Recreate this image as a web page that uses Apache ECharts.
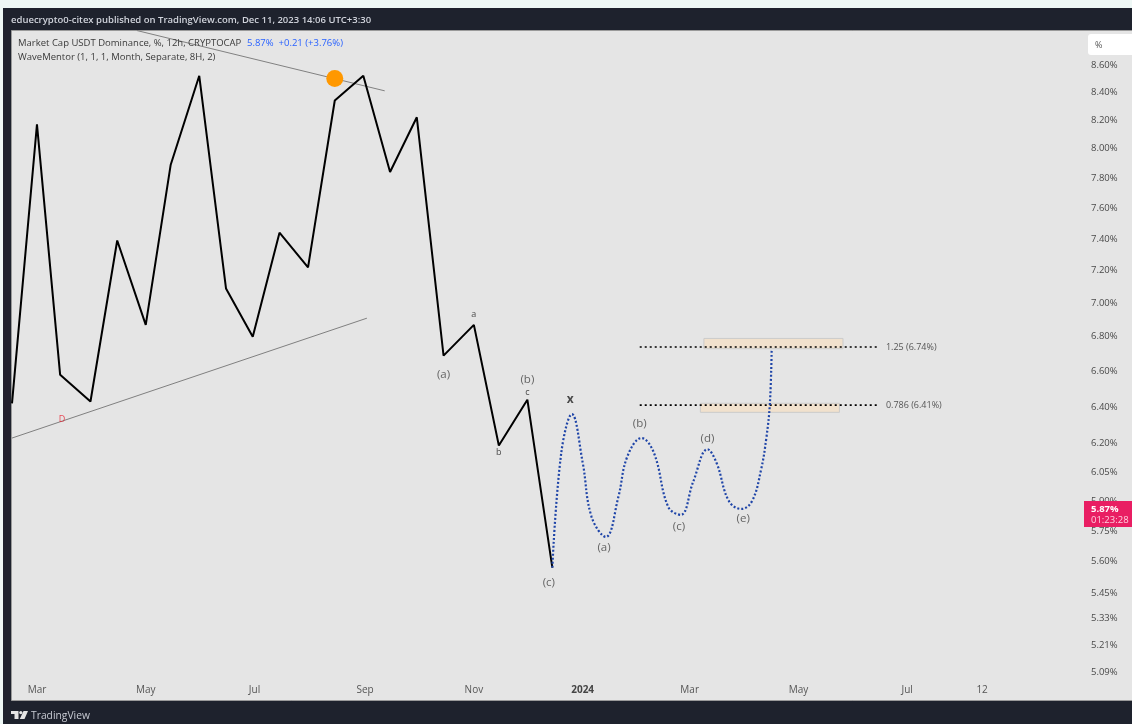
<!DOCTYPE html>
<html><head><meta charset="utf-8">
<style>html,body{margin:0;padding:0;background:#eef7f5}#c{width:1132px;height:724px}</style>
<script src="https://cdn.jsdelivr.net/npm/echarts@6/dist/echarts.min.js"></script>
</head><body><div id="c"></div>
<script>
const priceDates=['2023-02-15','2023-03-01','2023-03-14','2023-03-31','2023-04-15','2023-05-01','2023-05-15','2023-05-31','2023-06-15','2023-06-30','2023-07-15','2023-07-31','2023-08-15','2023-08-31','2023-09-15','2023-09-30','2023-10-15','2023-11-01','2023-11-15','2023-12-01','2023-12-15'];
const priceValues=[6.42,8.17,6.58,6.43,7.39,6.87,7.89,8.52,7.09,6.80,7.44,7.22,8.34,8.52,7.84,8.22,6.69,6.87,6.19,6.44,5.57];
const forecastDates=['2023-12-15','2023-12-20','2023-12-26','2024-01-01','2024-01-06','2024-01-14','2024-01-21','2024-01-26','2024-02-03','2024-02-10','2024-02-18','2024-02-25','2024-03-03','2024-03-11','2024-03-16','2024-03-23','2024-03-30','2024-04-05','2024-04-10','2024-04-13','2024-04-15','2024-04-16'];
const forecastValues=[5.57,6.15,6.36,6.10,5.82,5.72,5.92,6.13,6.23,6.15,5.87,5.83,6.00,6.17,6.10,5.90,5.86,5.90,6.06,6.23,6.42,6.73];
const upperTrendDates=['2023-04-26','2023-09-12'];
const upperTrendValues=[8.86,8.41];
const lowerTrendDates=['2023-02-15','2023-09-02'];
const lowerTrendValues=[6.23,6.91];
const fibDates=['2024-02-02','2024-06-14'];
const fibLevels=[6.41,6.74];
const fibNames=['0.786 (6.41%)','1.25 (6.74%)'];
const zoneStarts=['2024-03-09','2024-03-07'];
const zoneEnds=['2024-05-26','2024-05-24'];
const zoneHighs=[6.79,6.42];
const zoneLows=[6.73,6.37];
const markerDate='2023-08-15';
const markerValue=8.50;
const waveNames=['(a)','a','b','c','(b)','x','(c)','(a)','(b)','(c)','(d)','(e)'];
const waveDates=['2023-10-15','2023-11-01','2023-11-15','2023-12-01','2023-12-01','2023-12-25','2023-12-13','2024-01-13','2024-02-02','2024-02-24','2024-03-11','2024-03-31'];
const waveValues=[6.58,6.93,6.155,6.48,6.55,6.44,5.50,5.665,6.305,5.77,6.225,5.81];
const yTicks=[8.6,8.4,8.2,8.0,7.8,7.6,7.4,7.2,7.0,6.8,6.6,6.4,6.2,6.05,5.9,5.75,5.6,5.45,5.33,5.21,5.09];
const xTicks=['2023-03-01','2023-05-01','2023-07-01','2023-09-01','2023-11-01','2024-01-01','2024-03-01','2024-05-01','2024-07-01','2024-08-12'];
const xTickNames=['Mar','May','Jul','Sep','Nov','2024','Mar','May','Jul','12'];
const FONT='"Open Sans","Noto Sans",sans-serif';
const t=d=>Date.parse(d+'T00:00:00Z');
const zip=(a,b)=>a.map((d,i)=>[t(d),b[i]]);
const chart=echarts.init(document.getElementById('c'),null,{renderer:'canvas'});
const txt=(x,y,text,fill,size,weight,extra)=>({type:'text',z:100,silent:true,x,y,style:Object.assign({text,fill,font:(weight||'normal')+' '+size+'px '+FONT,textVerticalAlign:'middle'},extra||{})});
const waveLabel=n=>n==='x'?{fontWeight:'bold',fontSize:12,color:'#222'}:(n.length===1?{fontSize:9,color:'#222'}:{fontSize:11.5,color:'#444'});
chart.setOption({
  animation:false,
  backgroundColor:'#eef7f5',
  grid:{left:12,right:42,top:30,bottom:24,containLabel:false},
  xAxis:{type:'value',min:t('2023-02-15'),max:t('2024-10-11')+43200000,
    axisLine:{show:false},axisTick:{show:false},splitLine:{show:false},
    axisLabel:{inside:true,margin:5,hideOverlap:false,customValues:xTicks.map(t),color:'#555',fontSize:10,fontFamily:FONT,
      formatter:(v)=>{const n=xTickNames[xTicks.map(t).indexOf(+v)];return n==='2024'?'{b|2024}':n;},
      rich:{b:{fontWeight:'bold',fontSize:10,color:'#444',fontFamily:FONT}}}},
  yAxis:{type:'log',logBase:10,min:4.968,max:8.864,position:'right',
    axisLine:{show:false},axisTick:{show:false},splitLine:{show:false},minorTick:{show:false},minorSplitLine:{show:false},
    axisLabel:{customValues:yTicks,margin:1,color:'#4a4a4a',fontSize:9.5,fontFamily:FONT,hideOverlap:false,showMinLabel:true,showMaxLabel:true,
      formatter:(v)=>(+v).toFixed(2)+'%'}},
  series:[
    {name:'zones',type:'line',data:[],silent:true,z:1,
      markArea:{silent:true,itemStyle:{color:'#f1e1cd',opacity:1,borderColor:'#cbcbcb',borderWidth:1},
        data:zoneStarts.map((s,i)=>[{xAxis:t(s),yAxis:zoneHighs[i]},{xAxis:t(zoneEnds[i]),yAxis:zoneLows[i]}])}},
    {name:'upper',type:'line',data:zip(upperTrendDates,upperTrendValues),showSymbol:false,lineStyle:{color:'#808080',width:1},z:2},
    {name:'lower',type:'line',data:zip(lowerTrendDates,lowerTrendValues),showSymbol:false,lineStyle:{color:'#808080',width:1},z:2},
    ...fibLevels.map((lv,i)=>({name:fibNames[i],type:'line',data:zip(fibDates,[lv,lv]),showSymbol:false,
      lineStyle:{color:'#000',width:1.7,type:[2,3]},z:3,
      endLabel:{show:true,formatter:fibNames[i],color:'#555',fontSize:9,fontFamily:FONT,distance:9}})),
    {name:'Market Cap USDT Dominance',type:'line',data:zip(priceDates,priceValues),showSymbol:false,lineStyle:{color:'#000',width:2},z:4},
    {name:'Forecast',type:'line',data:zip(forecastDates,forecastValues),smooth:0.4,showSymbol:false,lineStyle:{color:'#1f45a8',width:2.2,type:[2,2]},z:5},
    {name:'marker',type:'scatter',data:[[t(markerDate),markerValue]],symbolSize:17,itemStyle:{color:'#ff9800',opacity:1},z:6},
    {name:'waves',type:'scatter',symbolSize:1,itemStyle:{color:'transparent'},z:7,
      data:waveNames.map((n,i)=>({value:[t(waveDates[i]),waveValues[i]],name:n,label:waveLabel(n)})),
      label:{show:true,position:'inside',formatter:(p)=>p.name,fontFamily:FONT}},
    {name:'D',type:'scatter',symbolSize:1,itemStyle:{color:'transparent'},z:7,data:[{value:[t('2023-03-15'),6.33],name:'D'}],
      label:{show:true,position:'inside',formatter:'D',fontFamily:FONT,color:'#e8202f',fontSize:9}}
  ],
  graphic:[
    {type:'rect',z:-20,silent:true,shape:{x:3,y:8,width:1129,height:716},style:{fill:'#1e222d'}},
    {type:'rect',z:-19,silent:true,shape:{x:11.5,y:30.5,width:1121,height:670},style:{fill:'#e5e5e5',stroke:'#9a9a9a',lineWidth:1}},
    txt(11,20,'eduecrypto0-citex published on TradingView.com, Dec 11, 2023 14:06 UTC+3:30','#d1d4dc',9.5,'600'),
    txt(18,43,'Market Cap USDT Dominance, %, 12h, CRYPTOCAP','#3a3a3a',9.5),
    txt(247,43,'5.87%  +0.21 (+3.76%)','#2962ff',9.5),
    txt(18,57,'WaveMentor (1, 1, 1, Month, Separate, 8H, 2)','#3a3a3a',9.5),
    {type:'rect',z:100,silent:true,shape:{x:1088,y:34,width:44,height:21,r:[3,0,0,3]},style:{fill:'#fff'}},
    txt(1095,45,'%','#555',9),
    {type:'rect',z:100,silent:true,shape:{x:1084,y:501,width:48,height:26},style:{fill:'#e91e63'}},
    txt(1091,509,'5.87%','#fff',9.5,'bold'),
    txt(1091,520,'01:23:28','#ffd0de',9.5),
    txt(31,716,'TradingView','#c8cbd3',10.3),
    {type:'rect',z:100,silent:true,shape:{x:11,y:711,width:7.5,height:3},style:{fill:'#e5e5e5'}},
    {type:'rect',z:100,silent:true,shape:{x:14.5,y:714,width:4,height:5},style:{fill:'#e5e5e5'}},
    {type:'circle',z:100,silent:true,shape:{cx:20.8,cy:712.6,r:1.6},style:{fill:'#e5e5e5'}},
    {type:'polygon',z:100,silent:true,shape:{points:[[23.5,711],[28,711],[24.5,719],[19.8,719]]},style:{fill:'#e5e5e5'}}
  ]
});
</script></body></html>
